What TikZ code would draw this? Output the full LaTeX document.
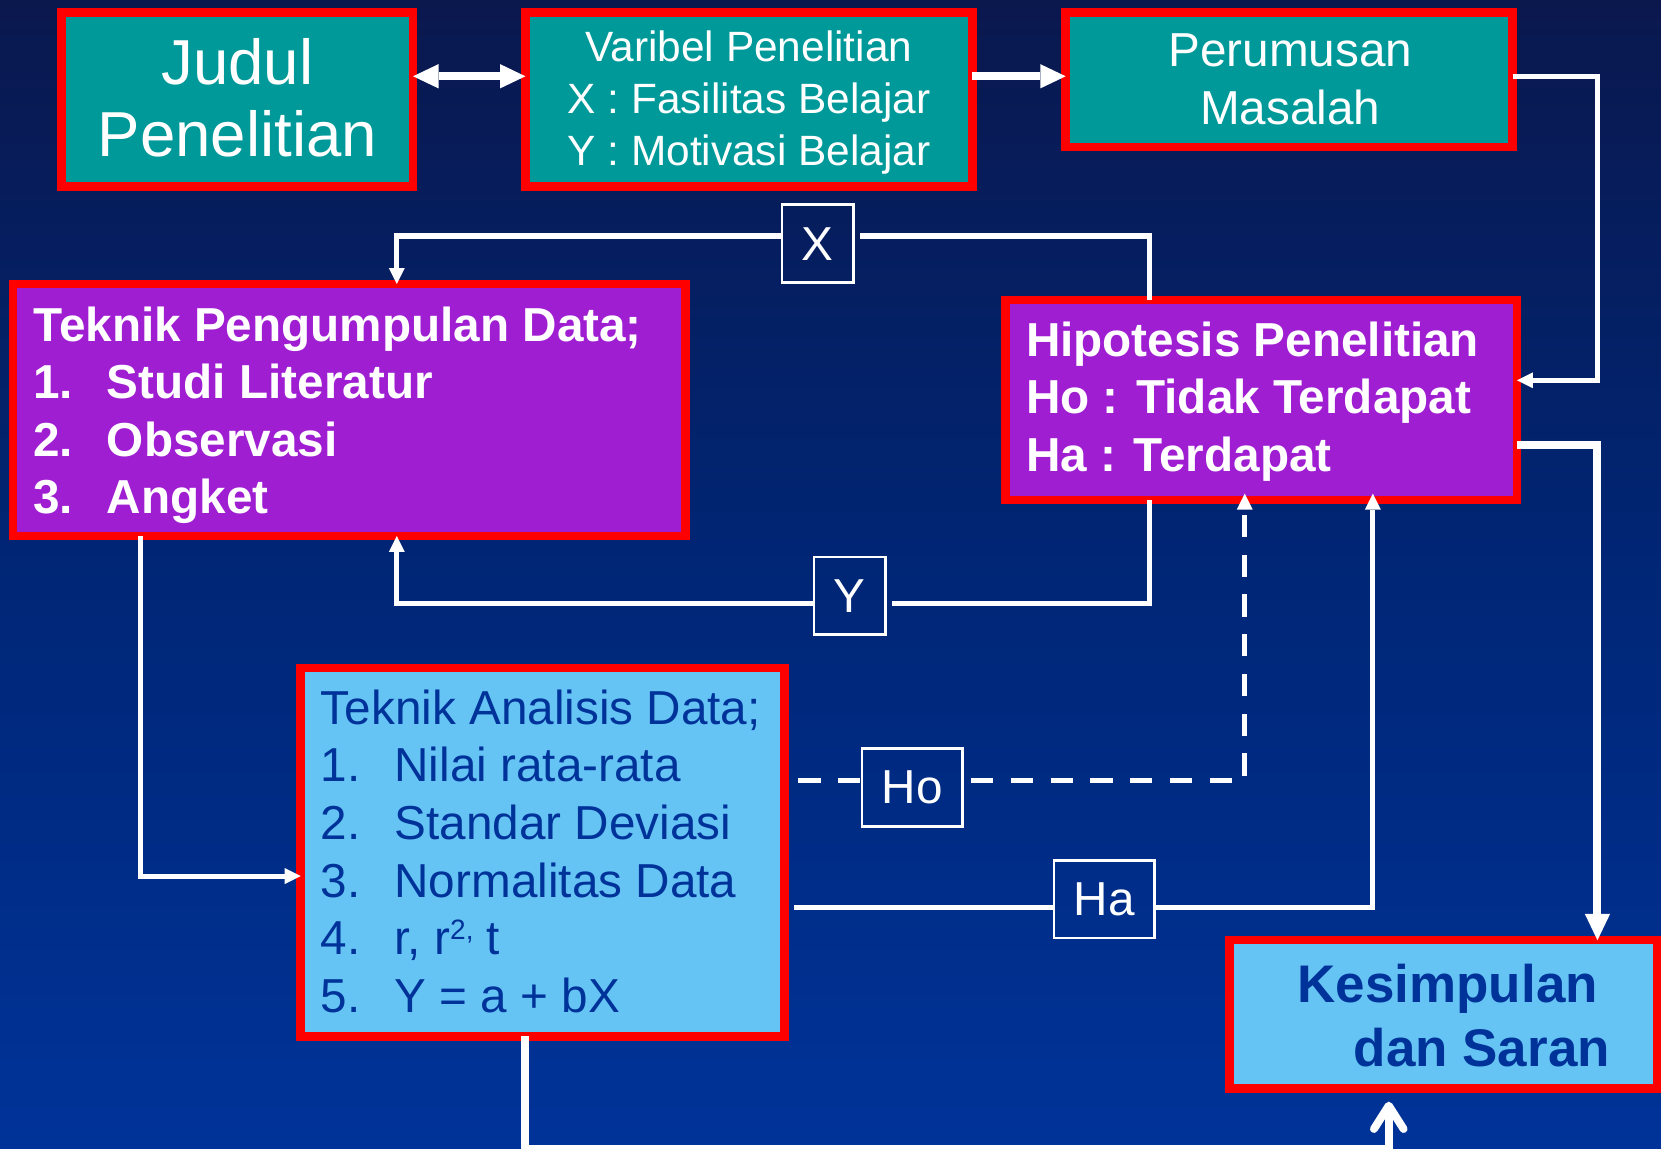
\documentclass[tikz,border=0pt]{standalone}
\usepackage{fontspec}
\setmainfont{Liberation Sans}
\usetikzlibrary{arrows.meta}
\definecolor{tealc}{RGB}{0,153,153}
\definecolor{purc}{RGB}{160,30,210}
\definecolor{lbluec}{RGB}{102,196,245}
\definecolor{dbluec}{RGB}{0,51,153}
\definecolor{bgtop}{RGB}{10,24,78}
\definecolor{bgmid}{RGB}{0,38,118}
\definecolor{bgbot}{RGB}{0,51,153}
\begin{document}
\begin{tikzpicture}[x=1pt,y=-1pt,
  boxbase/.style={draw=red, line width=8pt, outer sep=0pt, inner sep=0pt},
  tealbox/.style={boxbase, fill=tealc},
  purplebox/.style={boxbase, fill=purc},
  bluebox/.style={boxbase, fill=lbluec},
  lab/.style={draw=white, line width=2.4pt, outer sep=0pt, inner sep=0pt, text=white, font=\fontsize{45}{50}\selectfont},
  txt/.style={inner sep=0pt, outer sep=0pt},
  thinline/.style={draw=white, line width=4.8pt},
  bigline/.style={draw=white, line width=7.5pt},
  smalltip/.style={-{Triangle[length=15pt,width=15pt,line width=0pt]}},
  bigtip/.style={-{Triangle[length=24pt,width=23pt,line width=0pt]}},
  dashpat/.style={dash pattern=on 21pt off 16.5pt}
]
\useasboundingbox (0,0) rectangle (1568,1084);
\clip (0,0) rectangle (1568,1084);
\shade[top color=bgtop, bottom color=bgbot, middle color=bgmid] (0,0) rectangle (1568,1084);

% boxes
\node[tealbox, minimum width=332pt, minimum height=164pt] (judul) at (224,94) {};
\node[tealbox, minimum width=422pt, minimum height=164pt] (var) at (707,94) {};
\node[tealbox, minimum width=422pt, minimum height=127pt] (per) at (1217,75.5) {};
\node[purplebox, minimum width=634.6pt, minimum height=238pt] (tpd) at (329.7,387) {};
\node[purplebox, minimum width=483pt, minimum height=189pt] (hip) at (1190.5,377.5) {};
\node[bluebox, minimum width=456.8pt, minimum height=347.6pt] (ana) at (512.2,804.6) {};
\node[bluebox, minimum width=403.5pt, minimum height=139.9pt] (kes) at (1362.25,957.55) {};

% texts
\node[txt, anchor=base, text=white, font=\fontsize{60}{68}\selectfont] (judulT) at (224,80)
  {\begin{tabular}[t]{@{}c@{}}Judul\\Penelitian\end{tabular}};
\node[txt, anchor=base, text=white, font=\fontsize{40}{49}\selectfont] (varT) at (707,58)
  {\begin{tabular}[t]{@{}c@{}}Varibel Penelitian\\X : Fasilitas Belajar\\Y : Motivasi Belajar\end{tabular}};
\node[txt, anchor=base, text=white, font=\fontsize{45}{55}\selectfont] (perT) at (1218,63)
  {\begin{tabular}[t]{@{}c@{}}Perumusan\\Masalah\end{tabular}};
\node[txt, anchor=base west, text=white, font=\fontsize{45}{54}\selectfont\bfseries] (tpdT) at (31.6,322.5)
  {\begin{tabular}[t]{@{}l@{}}Teknik Pengumpulan Data;\\
   \makebox[69.4pt][l]{1.}Studi Literatur\\
   \makebox[69.4pt][l]{2.}Observasi\\
   \makebox[69.4pt][l]{3.}Angket\end{tabular}};
\node[txt, anchor=base west, text=white, font=\fontsize{45}{54}\selectfont\bfseries] (hipT) at (968.6,336.7)
  {\begin{tabular}[t]{@{}l@{}}Hipotesis Penelitian\\Ho : Tidak Terdapat\\Ha : Terdapat\end{tabular}};
\node[txt, anchor=base west, text=dbluec, font=\fontsize{45}{54.5}\selectfont] (anaT) at (303,683.5)
  {\begin{tabular}[t]{@{}l@{}}Teknik Analisis Data;\\
   \makebox[69.5pt][l]{1.}Nilai rata-rata\\
   \makebox[69.5pt][l]{2.}Standar Deviasi\\
   \makebox[69.5pt][l]{3.}Normalitas Data\\
   \makebox[69.5pt][l]{4.}r, r\raisebox{14.5pt}{\fontsize{26.5}{30}\selectfont 2,} t\\
   \makebox[69.5pt][l]{5.}Y = a + bX\end{tabular}};
\node[txt, anchor=base west, text=dbluec, font=\fontsize{50}{60.5}\selectfont\bfseries] (kesT) at (1225,946.5)
  {\begin{tabular}[t]{@{}l@{}}Kesimpulan\\\hspace*{53pt}dan Saran\end{tabular}};

% label boxes
\node[lab, minimum width=67.6pt, minimum height=73.6pt] (xl) at (772,230) {X};
\node[lab, minimum width=67.6pt, minimum height=73pt] (yl) at (802,562.3) {Y};
\node[lab, minimum width=95pt, minimum height=73.4pt] (hol) at (861.3,743.4) {Ho};
\node[lab, minimum width=95pt, minimum height=73pt] (hal) at (1042.4,849) {Ha};

% bend coordinates
\coordinate (cTop) at (1508,72);
\coordinate (cPH) at (1508,359);
\coordinate (cHK) at (1508,420);
\coordinate (cXR) at (1085,222.8);
\coordinate (cXL) at (374.6,222.8);
\coordinate (cYR) at (1085,570);
\coordinate (cYL) at (374.6,570);
\coordinate (cTA) at (133,827);
\coordinate (cHo) at (1175,736.4);
\coordinate (cHa) at (1296,857);
\coordinate (cAK1) at (495.6,1085);
\coordinate (cAK2) at (1311,1085);

% connectors
\draw[bigline, {Triangle[length=24pt,width=23pt,line width=0pt]}-{Triangle[length=24pt,width=23pt,line width=0pt]}]
  (judul.east |- cTop) -- (var.west |- cTop);
\draw[bigline, bigtip] (var.east |- cTop) -- (per.west |- cTop);
\draw[thinline, smalltip] (per.east |- cTop) -- (cTop) -- (cPH) -- (hip.east |- cPH);
\draw[bigline, -{Triangle[length=25pt,width=24pt,line width=0pt]}] (hip.east |- cHK) -- (cHK) -- (kes.north -| cHK);

\draw[thinline, shorten >=6pt] (hip.north -| cXR) -- (cXR) -- (xl.east |- cXR);
\draw[thinline, smalltip] (xl.west |- cXL) -- (cXL) -- (tpd.north -| cXL);

\draw[thinline, shorten >=6pt] (hip.south -| cYR) -- (cYR) -- (yl.east |- cYR);
\draw[thinline, smalltip] (yl.west |- cYL) -- (cYL) -- (tpd.south -| cYL);

\draw[thinline, smalltip] (tpd.south -| cTA) -- (cTA) -- (ana.west |- cTA);

\draw[thinline, dashpat, shorten <=13pt] (ana.east |- cHo) -- (hol.west |- cHo);
\draw[thinline, dash pattern=on 21pt off 16.5pt, dash phase=29.5pt, smalltip, shorten >=-6pt]
  (hol.east |- cHo) -- (cHo) -- (hip.south -| cHo);

\draw[thinline, shorten <=8.7pt] (ana.east |- cHa) -- (hal.west |- cHa);
\draw[thinline, smalltip, shorten >=-6pt] (hal.east |- cHa) -- (cHa) -- (hip.south -| cHa);

\draw[bigline, -{Straight Barb[length=22pt,width=28pt,round]}, shorten >=12.5pt]
  (ana.south -| cAK1) -- (cAK1) -- (cAK2) -- (kes.south -| cAK2);
\end{tikzpicture}
\end{document}
